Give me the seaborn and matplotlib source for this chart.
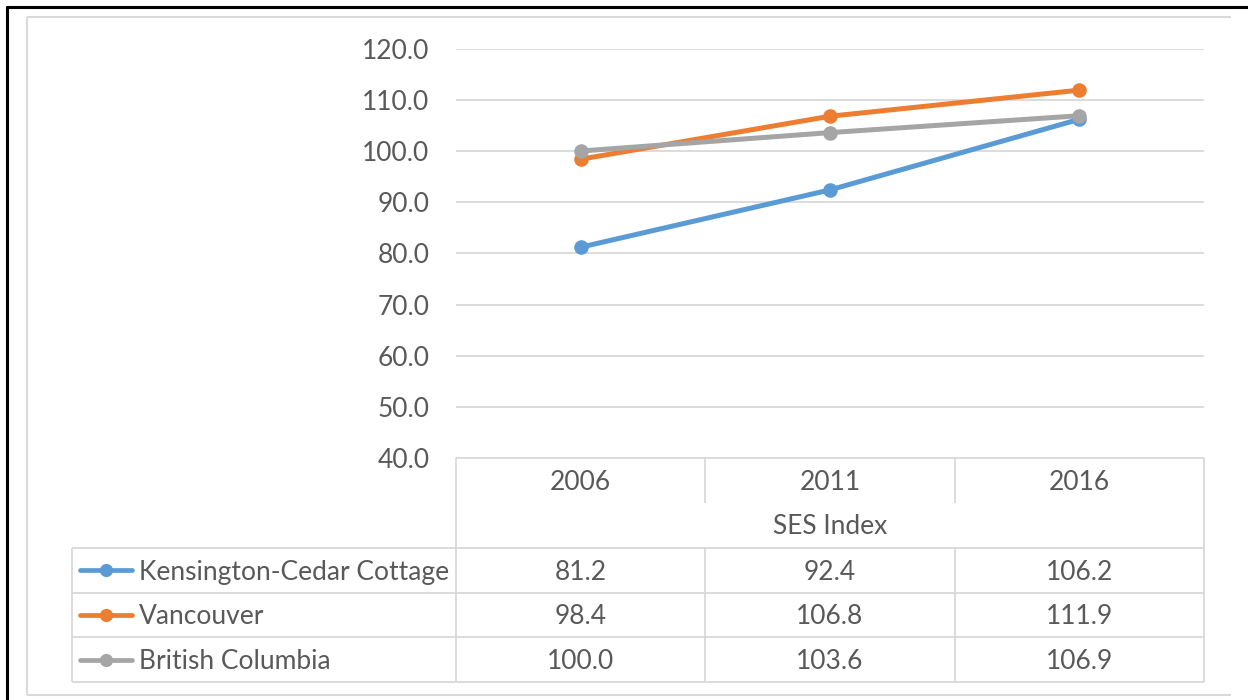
import matplotlib
matplotlib.use("Agg")
import matplotlib.pyplot as plt
from matplotlib.lines import Line2D
import seaborn as sns
import pandas as pd

# --- data -------------------------------------------------------------
years = ["2006", "2011", "2016"]
series_names = ["Kensington-Cedar Cottage", "Vancouver", "British Columbia"]
kensington = [81.2, 92.4, 106.2]
vancouver = [98.4, 106.8, 111.9]
british_columbia = [100.0, 103.6, 106.9]
y_ticks = [40, 50, 60, 70, 80, 90, 100, 110, 120]
axis_title = "SES Index"

palette = ["#5B9BD5", "#ED7D31", "#A5A5A5"]
text_color = "#595959"
grid_color = "#D9D9D9"

series_values = [kensington, vancouver, british_columbia]
rows = []
for name, vals in zip(series_names, series_values):
    for i, (yr, v) in enumerate(zip(years, vals)):
        rows.append({"series": name, "pos": i, "year": yr, "value": v})
df = pd.DataFrame(rows)

# --- figure -----------------------------------------------------------
sns.set_theme(style="white")
plt.rcParams["font.family"] = ["Lato", "DejaVu Sans"]

W, H = 1248, 700
fig = plt.figure(figsize=(W / 100, H / 100), dpi=100)


def fx(px):
    return px / W


def fy(py):
    return 1 - py / H


def hline(x0, x1, y, color=grid_color, lw=1.3):
    fig.add_artist(Line2D([fx(x0), fx(x1)], [fy(y), fy(y)], color=color,
                          lw=lw, transform=fig.transFigure, solid_capstyle="butt"))


def vline(x, y0, y1, color=grid_color, lw=1.3):
    fig.add_artist(Line2D([fx(x), fx(x)], [fy(y0), fy(y1)], color=color,
                          lw=lw, transform=fig.transFigure, solid_capstyle="butt"))


# plot area geometry (pixels)
px_left, px_right = 456, 1204
px_top, px_bottom = 48.7, 458

ax = fig.add_axes([fx(px_left), fy(px_bottom), fx(px_right - px_left),
                   (px_bottom - px_top) / H])

line_w = 3.6
mark_s = 10.5
fs = 19

sns.lineplot(data=df, x="pos", y="value", hue="series", hue_order=series_names,
             palette=palette, marker="o", markersize=mark_s, markeredgewidth=0,
             linewidth=line_w, legend=False, ax=ax, sort=False)

ax.set_xlim(-0.5, len(years) - 0.5)
ax.set_ylim(y_ticks[0], y_ticks[-1])
ax.set_yticks(y_ticks)
ax.set_yticklabels([f"{t:.1f}" for t in y_ticks], fontsize=fs, color=text_color)
ax.tick_params(axis="y", length=0, pad=19)
ax.set_xticks([])
ax.set_xlabel("")
ax.set_ylabel("")
for s in ax.spines.values():
    s.set_visible(False)
for t in y_ticks[1:]:
    ax.axhline(t, color=grid_color, lw=1.3, zorder=0)

# --- data table under the axis ---------------------------------------
col_edges = [px_left, 705, 955, px_right]
legend_left = 72
header_top = px_bottom
header_mid = 503
row_edges = [548, 592.5, 637, 682]
dy = 2  # small baseline nudge for vertically centred text

# header block
hline(px_left, px_right, header_top)
vline(px_left, header_top, row_edges[-1])
vline(px_right, header_top, row_edges[-1])
for x in col_edges[1:-1]:
    vline(x, header_top, header_mid)
    vline(x, row_edges[0], row_edges[-1])
# body rows
for y in row_edges:
    hline(legend_left, px_right, y)
vline(legend_left, row_edges[0], row_edges[-1])

for i, yr in enumerate(years):
    cx = (col_edges[i] + col_edges[i + 1]) / 2
    fig.text(fx(cx), fy(480 + dy), yr, ha="center", va="center", fontsize=fs,
             color=text_color)
fig.text(fx((px_left + px_right) / 2), fy(525 + dy), axis_title, ha="center",
         va="center", fontsize=fs, color=text_color)

for r, (name, vals, col) in enumerate(zip(series_names, series_values, palette)):
    cy = (row_edges[r] + row_edges[r + 1]) / 2
    fig.add_artist(Line2D([fx(80), fx(132)], [fy(cy), fy(cy)], color=col, lw=3.4,
                          transform=fig.transFigure, solid_capstyle="round"))
    fig.add_artist(Line2D([fx(106)], [fy(cy)], color=col, marker="o",
                          markersize=9.5, markeredgewidth=0,
                          transform=fig.transFigure))
    fig.text(fx(139), fy(cy + dy), name, ha="left", va="center", fontsize=fs,
             color=text_color)
    for i, v in enumerate(vals):
        cx = (col_edges[i] + col_edges[i + 1]) / 2
        fig.text(fx(cx), fy(cy + dy), f"{v:.1f}", ha="center", va="center",
                 fontsize=fs, color=text_color)

# --- chart frame ----------------------------------------------------------
hline(27, 1231, 17, color=grid_color, lw=1.5)
hline(27, 1231, 695, color=grid_color, lw=1.5)
vline(27, 17, 695, color=grid_color, lw=1.5)
hline(5.5, W, 7, color="black", lw=2.2)
vline(6.5, 6, H, color="black", lw=2.2)

fig.savefig("out.png", dpi=100, facecolor="white")
